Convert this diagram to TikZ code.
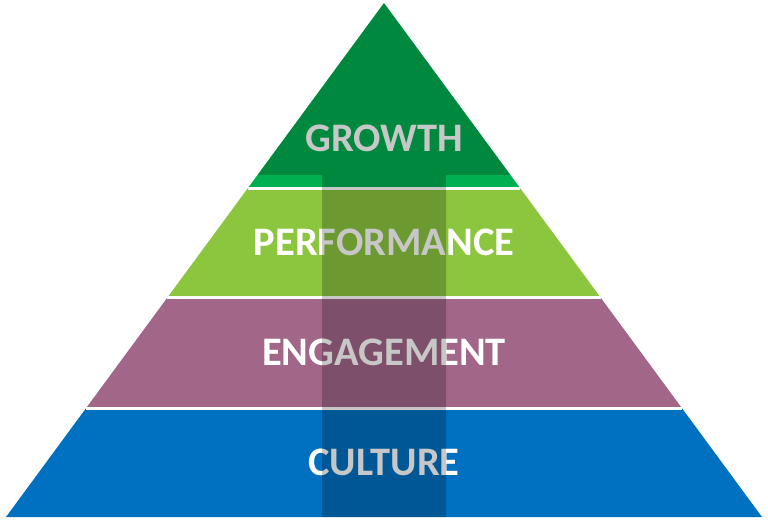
\documentclass[tikz,border=0pt]{standalone}
\usepackage{xcolor}
\usepackage{fontspec}
\setmainfont{Carlito}
\usetikzlibrary{calc}

\definecolor{growthgreen}{HTML}{00B050}
\definecolor{perfgreen}{HTML}{8CC63E}
\definecolor{engmauve}{HTML}{A16688}
\definecolor{cultblue}{HTML}{0070C0}

\tikzset{
  label/.style={text=white, font=\bfseries\fontsize{40.5}{46}\selectfont},
  gap/.style={white, line width=3pt}
}

\begin{document}
\begin{tikzpicture}[x=1pt,y=-1pt]
          \useasboundingbox (0,0) rectangle (768,521);

          \coordinate (A) at (384,3);
          \coordinate (L) at (6,517);
          \coordinate (R) at (762,517);

          % layer edges
          \coordinate (l1) at ($(A)!0.3609!(L)$);
          \coordinate (r1) at ($(A)!0.3609!(R)$);
          \coordinate (l2) at ($(A)!0.5730!(L)$);
          \coordinate (r2) at ($(A)!0.5730!(R)$);
          \coordinate (l3) at ($(A)!0.7889!(L)$);
          \coordinate (r3) at ($(A)!0.7889!(R)$);
          \coordinate (hl) at ($(A)!0.3346!(L)$);
          \coordinate (hr) at ($(A)!0.3346!(R)$);

          \fill[growthgreen] (A) -- (l1) -- (r1) -- cycle;
          \fill[perfgreen] (l1) -- (l2) -- (r2) -- (r1) -- cycle;
          \fill[engmauve] (l2) -- (l3) -- (r3) -- (r2) -- cycle;
          \fill[cultblue] (l3) -- (L) -- (R) -- (r3) -- cycle;

          \draw[gap] (l1) -- (r1);
          \draw[gap] (l2) -- (r2);
          \draw[gap] (l3) -- (r3);

          \node[label] (growth) at (384,138) {GROWTH};
          \node[label] (performance) at (384,242) {PERFORMANCE};
          \node[label] (engagement) at (384,352) {ENGAGEMENT};
          \node[label] (culture) at (384,462) {CULTURE};

          % arrow over the layers
          \fill[black, opacity=0.22] (A) -- (hl) -- (322,175) -- (322,517)
            -- (446,517) -- (446,175) -- (hr) -- cycle;

\end{tikzpicture}
\end{document}
